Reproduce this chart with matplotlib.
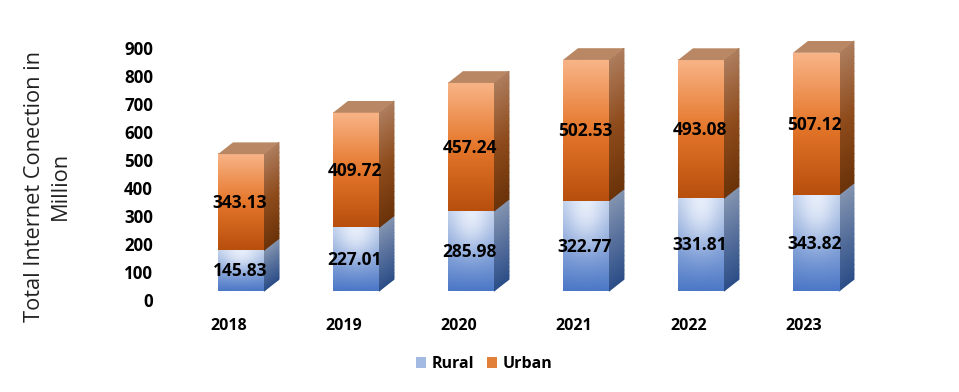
import matplotlib
matplotlib.use('Agg')
import matplotlib.pyplot as plt
import numpy as np
from matplotlib.colors import LinearSegmentedColormap, to_rgb
from matplotlib.patches import Patch, Polygon

years = ['2018', '2019', '2020', '2021', '2022', '2023']
rural = [145.83, 227.01, 285.98, 322.77, 331.81, 343.82]
urban = [343.13, 409.72, 457.24, 502.53, 493.08, 507.12]
yticks = [0, 100, 200, 300, 400, 500, 600, 700, 800, 900]

# 3d look, everything in data units
floor = 32
bar_w = 0.4
depth_x = 0.13
depth_y = 42
label_shift = 12 / 115

urban_front = LinearSegmentedColormap.from_list('uf', ['#b84f0d', '#e5772b', '#f8b487'])
urban_side = LinearSegmentedColormap.from_list('us', ['#6b3309', '#8f4c1c', '#ad7d5e'])
rural_side = LinearSegmentedColormap.from_list('rs', ['#2c4e88', '#566f9c', '#8495b0'])
urban_top = '#b98763'

plt.rcParams['font.family'] = ['Open Sans', 'DejaVu Sans']

fig = plt.figure(figsize=(9.59, 3.92), dpi=100)
ax = fig.add_axes([160 / 959, (392 - 300) / 392, 720 / 959, 270 / 392])


def side(x, y0, y1, cmap):
    t = np.linspace(0, 1, 20)
    yy = y0 + t * (y1 - y0)
    X = np.column_stack([np.full(20, x), np.full(20, x + depth_x)])
    Y = np.column_stack([yy, yy + depth_y])
    C = np.column_stack([t, t])
    ax.pcolormesh(X, Y, C, cmap=cmap, shading='gouraud', vmin=0, vmax=1, zorder=2)


def rural_front(x0, x1, y0, y1):
    # soft glow at the top middle, blue at the bottom
    gy, gx = np.mgrid[0:1:80j, -1:1:46j]
    low = np.array(to_rgb('#4a76c6'))
    high = np.array(to_rgb('#b3c6e6'))
    glow = np.array(to_rgb('#e6edfa'))
    img = low + (high - low) * gy[..., None] ** 0.9
    amount = np.exp(-(gx * 1.1) ** 2 - ((1 - gy) * 2.2) ** 2)[..., None]
    img = img + (glow - img) * amount
    ax.imshow(img, extent=(x0, x1, y0, y1), origin='lower', aspect='auto', zorder=3)


for i in range(len(years)):
    x0 = i - bar_w / 2
    x1 = i + bar_w / 2
    y1 = floor + rural[i]
    y2 = y1 + urban[i]
    rural_front(x0, x1, floor, y1)
    side(x1, floor, y1, rural_side)
    g = np.linspace(0, 1, 80).reshape(-1, 1)
    ax.imshow(g, extent=(x0, x1, y1, y2), origin='lower', aspect='auto',
              cmap=urban_front, vmin=0, vmax=1, zorder=3)
    side(x1, y1, y2, urban_side)
    ax.add_patch(Polygon([(x0, y2), (x1, y2), (x1 + depth_x, y2 + depth_y), (x0 + depth_x, y2 + depth_y)],
                         facecolor=urban_top, edgecolor='none', zorder=3))
    ax.text(i - 0.01, floor + rural[i] / 2 - 3, f'{rural[i]:.2f}', ha='center', va='center',
            fontsize=12.5, fontweight='bold', color='black', zorder=5)
    ax.text(i - 0.01, y1 + urban[i] / 2 - 3, f'{urban[i]:.2f}', ha='center', va='center',
            fontsize=12.5, fontweight='bold', color='black', zorder=5)

ax.set_xlim(-81 / 115, 639 / 115)
ax.set_ylim(0, 270 / 0.28)
ax.set_xticks(np.arange(len(years)) - label_shift)
ax.set_xticklabels(years, fontsize=11.5, fontweight='bold')
ax.set_yticks(yticks)
ax.set_yticklabels(yticks, fontsize=12.2, fontweight='bold')
ax.tick_params(length=0)
ax.tick_params(axis='x', pad=13)
ax.tick_params(axis='y', pad=5)
for s in ax.spines.values():
    s.set_visible(False)
ax.patch.set_alpha(0)

fig.text(47 / 959, 1 - 186 / 392, 'Total Internet Conection in\nMillion', rotation=90,
         ha='center', va='center', fontsize=15.7, color='#222222', linespacing=1.3)

handles = [Patch(facecolor='#a3bae2', label='Rural'), Patch(facecolor='#e2803a', label='Urban')]
fig.legend(handles=handles, loc='center', bbox_to_anchor=(484 / 959, 1 - 364 / 392), ncol=2,
           frameon=False, prop={'size': 11.5, 'weight': 'bold'}, handlelength=0.62, handleheight=0.75,
           handletextpad=0.35, columnspacing=0.8)

fig.savefig('out.png', dpi=100)
